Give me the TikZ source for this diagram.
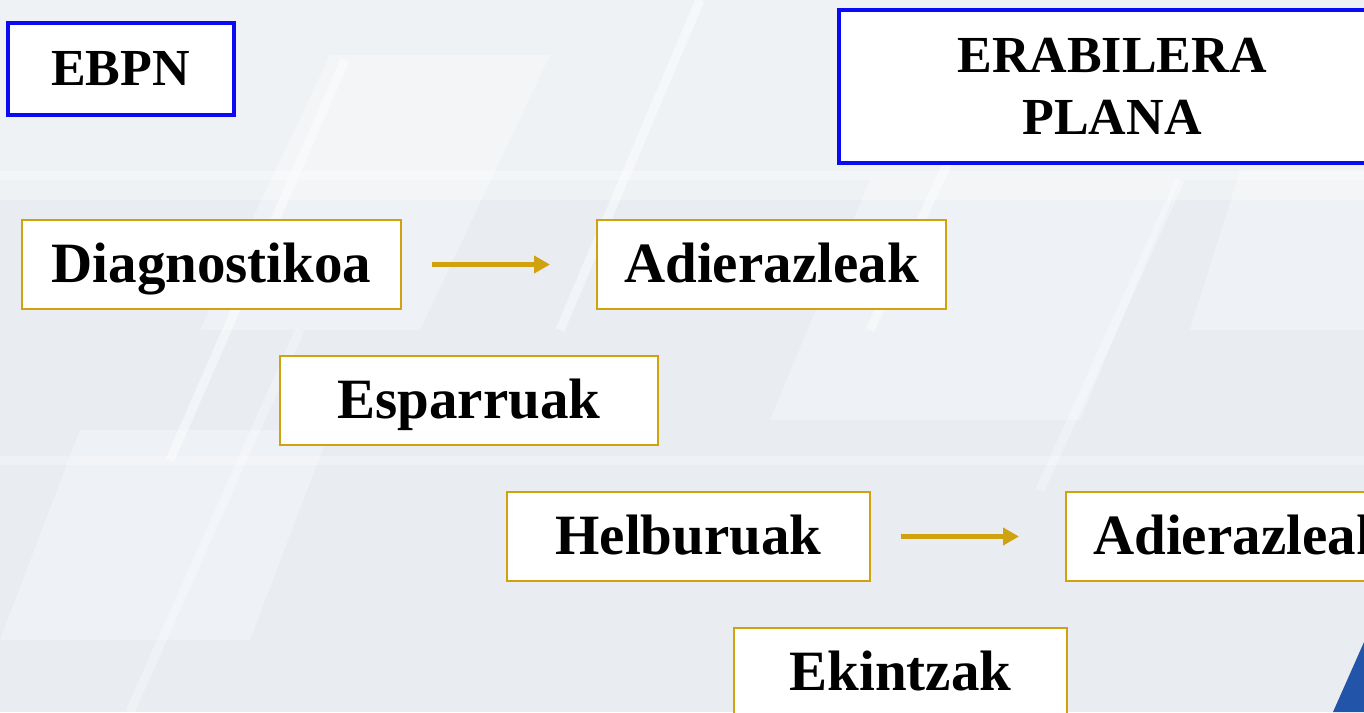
\documentclass[tikz,border=0pt]{standalone}
\usepackage{fontspec}
\setmainfont{Liberation Serif}
\usetikzlibrary{arrows.meta}
\definecolor{bgc}{RGB}{233,237,242}
\definecolor{gold}{RGB}{208,162,16}
\definecolor{bluebox}{RGB}{10,10,245}
\definecolor{cornerblue}{RGB}{34,84,170}
\tikzset{
  goldbox/.style={draw=gold, line width=2pt, fill=white, minimum width=#1, minimum height=89pt,
    inner sep=0pt, text height=36pt, text depth=0pt,
    font=\fontsize{57}{62}\selectfont\bfseries, text=black},
  bluebx/.style={draw=bluebox, line width=4pt, fill=white, inner sep=0pt,
    font=\fontsize{52}{62}\selectfont\bfseries, text=black, align=center},
  goldarrow/.style={draw=gold, line width=5pt, -{Triangle[length=16pt,width=17pt]}},
  stripe/.style={white, opacity=0.45, line width=9pt},
  pane/.style={fill=white, opacity=0.25}
}
\begin{document}
\begin{tikzpicture}[x=1pt,y=-1pt]
\useasboundingbox (0,0) rectangle (1364,712);
\clip (0,0) rectangle (1364,712);
% background
\fill[bgc] (0,0) rectangle (1364,712);
\fill[white, opacity=0.3] (0,0) rectangle (1364,200);
\fill[pane] (330,55) -- (550,55) -- (420,330) -- (200,330) -- cycle;
\fill[pane] (870,180) -- (1180,180) -- (1080,420) -- (770,420) -- cycle;
\fill[pane] (80,430) -- (330,430) -- (250,640) -- (0,640) -- cycle;
\fill[pane] (1240,170) -- (1364,170) -- (1364,330) -- (1190,330) -- cycle;
\draw[stripe] (700,0) -- (560,330);
\draw[stripe] (345,60) -- (170,460);
\draw[stripe] (1000,50) -- (870,330);
\draw[stripe, opacity=0.3] (0,175) -- (1364,175);
\draw[stripe, opacity=0.25] (0,460) -- (1364,460);
\draw[stripe, opacity=0.3] (300,330) -- (130,712);
\draw[stripe, opacity=0.3] (1180,180) -- (1040,490);
\fill[cornerblue] (1333,712) -- (1364,642) -- (1364,712) -- cycle;
% title boxes
\node[bluebx, minimum width=226pt, minimum height=92pt] (ebpn) at (120.5,69) {EBPN};
\node[bluebx, minimum width=546pt, minimum height=153pt] (plana) at (1112,86.5) {ERABILERA\\PLANA};
% gold boxes
\node[goldbox=379pt] (diag) at (211.5,264.5) {Diagnostikoa};
\node[goldbox=349pt] (adi1) at (771.5,264.5) {Adierazleak};
\node[goldbox=378pt] (espa) at (469,400.5) {Esparruak};
\node[goldbox=363pt] (helb) at (688.5,536.5) {Helburuak};
\node[goldbox=349pt] (adi2) at (1240.5,536.5) {Adierazleak};
\node[goldbox=333pt] (ekin) at (900.5,672.5) {Ekintzak};
% arrows
\draw[goldarrow, shorten <=30pt, shorten >=46pt] (diag.east) -- (adi1.west);
\draw[goldarrow, shorten <=30pt, shorten >=46pt] (helb.east) -- (adi2.west);
\end{tikzpicture}
\end{document}
